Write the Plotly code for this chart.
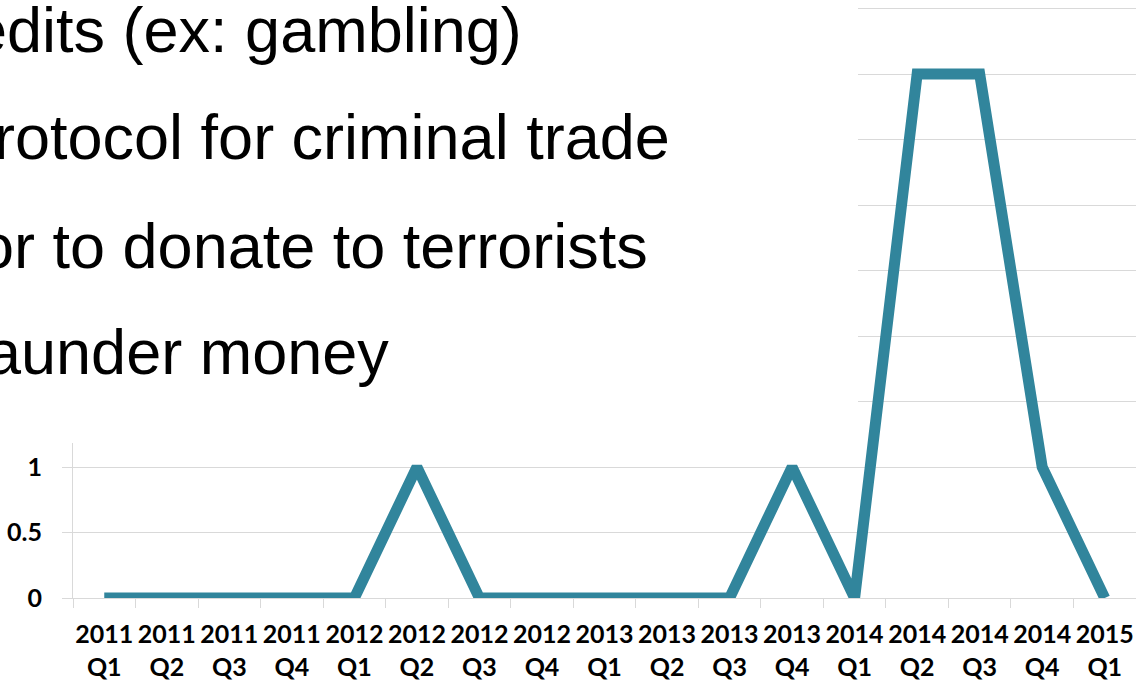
import plotly.graph_objects as go

quarters = ["2011<br>Q1", "2011<br>Q2", "2011<br>Q3", "2011<br>Q4",
            "2012<br>Q1", "2012<br>Q2", "2012<br>Q3", "2012<br>Q4",
            "2013<br>Q1", "2013<br>Q2", "2013<br>Q3", "2013<br>Q4",
            "2014<br>Q1", "2014<br>Q2", "2014<br>Q3", "2014<br>Q4",
            "2015<br>Q1"]
counts = [0, 0, 0, 0, 0, 1, 0, 0, 0, 0, 0, 1, 0, 4, 4, 1, 0]

y_tickvals = [0, 0.5, 1, 1.5, 2, 2.5, 3, 3.5, 4, 4.5]
y_ticktext = ["0", "0.5", "1", "", "", "", "", "", "", ""]

slide_lines = ["edits (ex: gambling)",
               "rotocol for criminal trade",
               "or to donate to terrorists",
               "aunder money"]

W, H = 1136, 681
L, R, T, B = 73, 0, 6, 83
pw, ph = W - L - R, H - T - B
Y_TOP = 4.5 * (H - B - T) / (H - B - 8.5)

def px_x(p):
    return (p - L) / pw

def px_y(p):
    return (H - B - p) / ph

fig = go.Figure()
fig.add_trace(go.Scatter(
    x=quarters, y=counts, mode="lines",
    line=dict(color="#31859C", width=11),
    hoverinfo="skip", showlegend=False,
))

grid = "#d9d9d9"
tick_font = dict(family="Lato", size=25, color="#000000", weight="bold")
fig.update_layout(
    width=W, height=H,
    margin=dict(l=L, r=R, t=T, b=B, autoexpand=False),
    paper_bgcolor="white", plot_bgcolor="white",
    showlegend=False,
    xaxis=dict(
        type="category", range=[-0.5, 16.5], showgrid=False,
        showline=True, linecolor=grid, linewidth=1,
        tickson="boundaries", ticks="outside", ticklen=9, tickcolor=grid,
        tickfont=tick_font, tickangle=0,
        ticklabelstandoff=14, automargin=False, zeroline=False,
    ),
    yaxis=dict(
        range=[0, Y_TOP], tickvals=y_tickvals, ticktext=y_ticktext,
        showgrid=True, gridcolor=grid, gridwidth=1,
        showline=True, linecolor=grid, linewidth=1,
        ticks="outside", ticklen=10, tickcolor=grid,
        tickfont=tick_font,
        ticklabelstandoff=15, automargin=False, zeroline=False,
    ),
)

# white slide text box covering the upper-left part of the chart
fig.add_shape(type="rect", xref="paper", yref="paper",
              x0=px_x(-5), x1=px_x(858), y0=px_y(443), y1=px_y(-5),
              fillcolor="white", line=dict(width=0), layer="above")

right_edges = [524, 672, 650, 391]
centers = [30, 137, 246, 352]
for txt, rx, cy in zip(slide_lines, right_edges, centers):
    fig.add_annotation(
        text=txt, xref="paper", yref="paper",
        x=px_x(rx), y=px_y(cy), xanchor="right", yanchor="middle",
        showarrow=False,
        font=dict(family="Liberation Sans, Arial", size=63, color="black"),
    )

fig.write_html("out.html")
